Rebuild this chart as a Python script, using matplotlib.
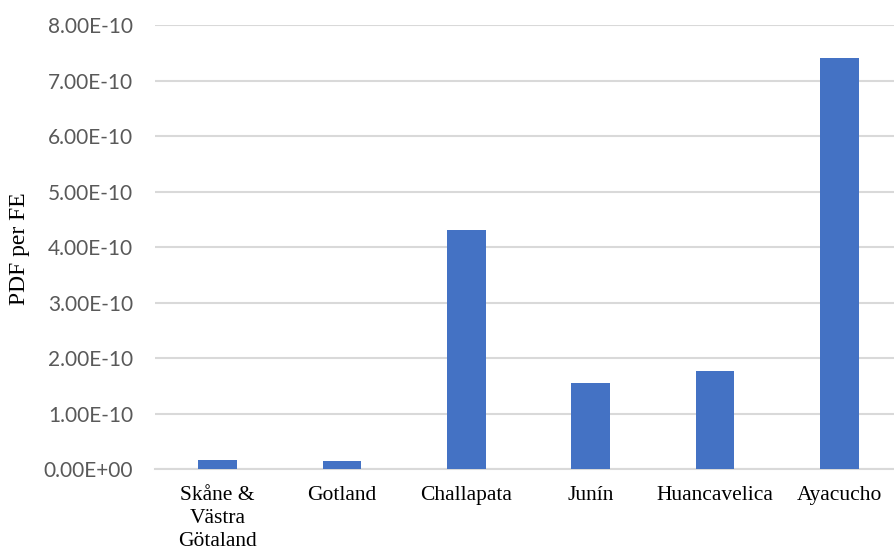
import matplotlib.pyplot as plt
import numpy as np

# data
regions = ['Skåne &\nVästra\nGötaland', 'Gotland', 'Challapata', 'Junín', 'Huancavelica', 'Ayacucho']
pdf_per_fe = [1.73e-11, 1.55e-11, 4.30e-10, 1.56e-10, 1.77e-10, 7.41e-10]
yticks = np.arange(0, 8.01e-10, 1e-10)

fig = plt.figure(figsize=(8.94, 5.51), dpi=100)
# the plot area runs a little past the right edge of the image
ax = fig.add_axes([155.3 / 894, 1 - 469.3 / 551, 746.4 / 894, (469.3 - 25) / 551])

x = np.arange(len(regions))
ax.bar(x, pdf_per_fe, width=0.31, color='#4472C4', zorder=3)

ax.set_xlim(-0.5, len(regions) - 0.5)
ax.set_ylim(0, 8e-10)
ax.set_yticks(yticks)
ax.set_yticklabels(['%.2fE%+03d' % (v / 10 ** np.floor(np.log10(v)), np.floor(np.log10(v))) if v > 0 else '0.00E+00'
                    for v in yticks], fontname='Lato', fontsize=15, color='#595959')
ax.set_xticks(x)
ax.set_xticklabels(regions, fontname='Liberation Serif', fontsize=15.5, color='black', linespacing=1.28)
ax.tick_params(axis='both', length=0)
ax.tick_params(axis='y', pad=16)
ax.tick_params(axis='x', pad=12)

ax.grid(axis='y', color='#d9d9d9', linewidth=1.5, zorder=0)
for s in ['top', 'right', 'left']:
    ax.spines[s].set_visible(False)
ax.spines['bottom'].set_color('#d9d9d9')
ax.spines['bottom'].set_linewidth(1.5)

fig.text(20 / 894, 1 - 249 / 551, 'PDF per FE', rotation=90, ha='center', va='center',
         fontname='Liberation Serif', fontsize=17, color='black')

fig.savefig('out.png', dpi=100)
